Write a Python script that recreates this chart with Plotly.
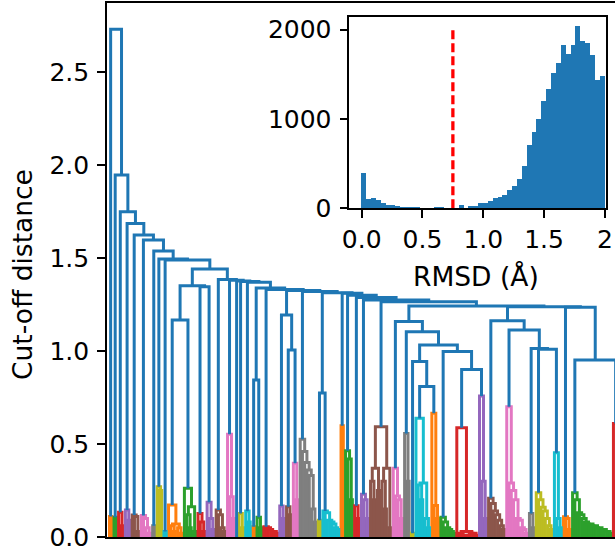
import plotly.graph_objects as go

# ---------------------------------------------------------------
# Flat clusters below the cut-off (left to right).
# A list of heights is a ladder (top merge first; k heights -> k+1
# leaves, each merge joining one leaf with the rest).  A tuple
# (height, left, right) is an explicit merge of two sub-clusters.
# ---------------------------------------------------------------
cluster_colors = [
    "orange", "green", "red", "purple", "brown", "pink", "gray", "olive", "cyan",
    "orange", "green", "red", "purple", "brown", "pink", "blue", "olive", "cyan",
    "orange", "green", "red", "purple", "brown", "pink", "gray", "olive", "cyan",
    "orange", "green", "red", "purple", "brown", "pink", "gray", "olive", "cyan",
    "orange", "green", "red", "purple", "brown", "pink", "gray", "olive", "cyan",
    "orange", "green", "red",
]

cluster_shapes = [
    [0.11], [0.106], [0.133, 0.06], [0.145, 0.09], [0.118, 0.11, 0.03],
    [0.115, 0.10, 0.05, 0.02], [0.06], [0.27, 0.25], [0.03],
    (0.172, [], (0.07, [0.06, 0.03], [0.05, 0.02])),
    (0.262, [], (0.163, [0.12, 0.05], [0.03])),
    [0.127, 0.08, 0.03], [0.187, 0.1, 0.04], [0.145, 0.12, 0.05, 0.03],
    [0.553, 0.217, 0.1], [], [0.127, 0.05], [0.14, 0.08], [0.055], [0.106, 0.05],
    [0.055, 0.05, 0.04, 0.03, 0.03, 0.02], [0.167, 0.1], [0.163, 0.12], [0.396, 0.2],
    [0.525, 0.46, 0.40, 0.36, 0.33, 0.15, 0.08], [0.09],
    [0.14, 0.13, 0.09, 0.08, 0.07, 0.05, 0.04], [0.598], [0.464, 0.42, 0.2],
    [0.168, 0.1], [0.23, 0.2, 0.1],
    (0.593, (0.37, [0.3, 0.2], [0.25]), (0.37, [0.3, 0.15], [0.05])),
    [0.37, 0.22, 0.2, 0.1], [0.557, 0.3], [0.02],
    (0.638, [], (0.29, [0.28, 0.2], [0.1, 0.05])),
    [0.665, 0.17, 0.1], [0.106, 0.08, 0.05, 0.04, 0.03, 0.02],
    (0.588, [], (0.03, [0.02, 0.01, 0.01], (0.02, [0.01], [0.02, 0.01]))),
    [0.758, 0.3, 0.1],
    [0.208, 0.18, 0.14, 0.12, 0.09, 0.06, 0.04],
    [0.70, 0.29, 0.25, 0.2, 0.1, 0.09, 0.05, 0.04, 0.02], [0.127, 0.05],
    [0.238, 0.2, 0.16, 0.14, 0.1, 0.06, 0.04], [0.453, 0.1, 0.05], [0.109, 0.1, 0.04],
    [0.238, 0.2, 0.13, 0.12, 0.1, 0.08, 0.07, 0.07, 0.06, 0.06, 0.05, 0.05, 0.04,
     0.04, 0.03, 0.03, 0.02],
    [0.61, 0.3, 0.2, 0.1, 0.05],
]

# Links above the cut-off: (node, left child, right child, distance).
# Integer children are clusters, strings are earlier nodes.
blue_links = [
    ("K", 9, 10, 1.167), ("L", 11, 12, 1.345), ("J", "K", "L", 1.351),
    ("U0844", 18, 19, 0.844), ("U1005", 22, 23, 1.005), ("U1194", 21, "U1005", 1.194),
    ("U0774", 25, 26, 0.774), ("U0809", 35, 36, 0.809), ("U0943", 34, "U0809", 0.943),
    ("U0900", 38, 39, 0.900), ("U0997", 37, "U0900", 0.997),
    ("U1032", "U0943", "U0997", 1.032), ("U1104", 33, "U1032", 1.104),
    ("U1158", 32, "U1104", 1.158), ("U1010", 43, 44, 1.010), ("U1014", 42, "U1010", 1.014),
    ("U1113", 41, "U1014", 1.113), ("U1163", 40, "U1113", 1.163),
    ("U0952", 46, 47, 0.952), ("N1", 45, "U0952", 1.235), ("N2", "U1163", "N1", 1.238),
    ("N3", "U1158", "N2", 1.242), ("N4", 31, "N3", 1.265), ("N5", 30, "N4", 1.274),
    ("N6", 29, "N5", 1.287), ("N7", 28, "N6", 1.300), ("N8", 27, "N7", 1.310),
    ("N9", "U0774", "N8", 1.313), ("N10", 24, "N9", 1.320), ("N11", "U1194", "N10", 1.325),
    ("N12", 20, "N11", 1.330), ("N13", "U0844", "N12", 1.339), ("N14", 17, "N13", 1.370),
    ("N15", 16, "N14", 1.373), ("N16", 15, "N15", 1.376), ("N17", 14, "N16", 1.380),
    ("N18", 13, "N17", 1.385), ("I", "J", "N18", 1.441), ("H", 8, "I", 1.489),
    ("G", 7, "H", 1.495), ("F", 6, "G", 1.538), ("E", 5, "F", 1.597),
    ("D", 4, "E", 1.624), ("C", 3, "D", 1.686), ("B", 2, "C", 1.749),
    ("A", 1, "B", 1.946), ("root", 0, "A", 2.730),
]

# Inset histogram of pairwise RMSD (bin width 0.04 Å on 0–2 Å)
rmsd_bin_width = 0.04
rmsd_counts = [
    399, 104, 116, 100, 60, 37, 37, 26, 15, 15, 15, 15, 3, 0, 0, 15, 15, 0, 0, 0,
    37, 0, 26, 26, 60, 60, 82, 116, 131, 153, 205, 254, 336, 478, 709, 858, 1000,
    1205, 1336, 1519, 1631, 1828, 1735, 1828, 2041, 1873, 1854, 1716, 1437, 1481,
]
rmsd_cutoff = 0.75

y_ticks = [0.0, 0.5, 1.0, 1.5, 2.0, 2.5]
y_tick_text = ["0.0", "0.5", "1.0", "1.5", "2.0", "2.5"]
inset_x_ticks = [0.0, 0.5, 1.0, 1.5, 2.0]
inset_x_tick_text = ["0.0", "0.5", "1.0", "1.5", "2"]
inset_y_ticks = [0, 1000, 2000]

palette = {
    "blue": "#1f77b4", "orange": "#ff7f0e", "green": "#2ca02c", "red": "#d62728",
    "purple": "#9467bd", "brown": "#8c564b", "pink": "#e377c2", "gray": "#7f7f7f",
    "olive": "#bcbd22", "cyan": "#17becf",
}

# ---------------------------------------------------------------
# Dendrogram geometry
# ---------------------------------------------------------------
segments = {}


def add_u(color, xl, hl, xr, hr, h):
    xs, ys = segments.setdefault(color, ([], []))
    xs += [xl, xl, xr, xr, None]
    ys += [hl, h, h, hr, None]


def place(shape, color, start):
    """Lay out a cluster from leaf index `start`; return (centre, height, next leaf)."""
    if isinstance(shape, tuple):
        h, left, right = shape
        xl, hl, nxt = place(left, color, start)
        xr, hr, nxt = place(right, color, nxt)
        add_u(color, xl, hl, xr, hr, h)
        return (xl + xr) / 2.0, h, nxt
    n = len(shape) + 1
    pos = list(range(start, start + n))
    centre, ch = float(pos[-1]), 0.0
    for k in range(n - 2, -1, -1):
        add_u(color, pos[k], 0.0, centre, ch, shape[k])
        centre, ch = (pos[k] + centre) / 2.0, shape[k]
    return centre, ch, start + n


node_pos = {}  # cluster index / node name -> (x centre, height)
leaf = 0
for ci, (col, shape) in enumerate(zip(cluster_colors, cluster_shapes)):
    cx, ch, leaf = place(shape, col, leaf)
    node_pos[ci] = (cx, ch)

for name, left, right, h in blue_links:
    xl, hl = node_pos[left]
    xr, hr = node_pos[right]
    add_u("blue", xl, hl, xr, hr, h)
    node_pos[name] = ((xl + xr) / 2.0, h)

fig = go.Figure()
for col in ["orange", "green", "red", "purple", "brown", "pink", "gray", "olive", "cyan", "blue"]:
    if col not in segments:
        continue
    xs, ys = segments[col]
    fig.add_trace(go.Scatter(
        x=xs, y=ys, mode="lines", line=dict(color=palette[col], width=3),
        hoverinfo="skip", showlegend=False, xaxis="x", yaxis="y",
    ))

# Inset histogram
bin_centres = [rmsd_bin_width * (i + 0.5) for i in range(len(rmsd_counts))]
fig.add_trace(go.Bar(
    x=bin_centres, y=rmsd_counts, width=rmsd_bin_width,
    marker=dict(color="#1f77b4", line=dict(width=0)),
    hoverinfo="skip", showlegend=False, xaxis="x2", yaxis="y2",
))
fig.add_trace(go.Scatter(
    x=[rmsd_cutoff, rmsd_cutoff], y=[0, 2000], mode="lines",
    line=dict(color="red", width=3.3, dash="9px,4px"),
    hoverinfo="skip", showlegend=False, xaxis="x2", yaxis="y2",
))

FONT = "DejaVu Sans"
tick_font = dict(family=FONT, size=25, color="black")
label_font = dict(family=FONT, size=26.5, color="black")
W, H = 615, 550
ML, MT, MB = 107, 3, 13
pw, ph = W - ML, H - MT - MB

x_lo = (ML - 109.5) / 2.27
x_hi = (W - 109.5) / 2.27

axis_common = dict(
    showline=True, linecolor="black", linewidth=1.6, showgrid=False,
    zeroline=False, fixedrange=True, automargin=False,
)
tick_common = dict(
    ticks="outside", ticklen=8, tickwidth=1.6, tickcolor="black",
    tickfont=tick_font, ticklabeloverflow="allow",
)

fig.update_layout(
    width=W, height=H,
    margin=dict(l=ML, r=0, t=MT, b=MB, pad=0, autoexpand=False),
    paper_bgcolor="white", plot_bgcolor="white",
    bargap=0, showlegend=False,
    font=dict(family=FONT, color="black"),
    xaxis=dict(
        domain=[0, 1], range=[x_lo, x_hi], showticklabels=False, ticks="",
        mirror=True, **axis_common,
    ),
    yaxis=dict(
        domain=[0, 1], range=[0, ph / 186.0],
        tickvals=y_ticks, ticktext=y_tick_text, ticklabelstandoff=3,
        mirror=False, **axis_common, **tick_common,
    ),
    xaxis2=dict(
        domain=[(349.3 - ML) / pw, (605.7 - ML) / pw], anchor="y2",
        range=[-0.102, 2.007],
        tickvals=inset_x_ticks, ticktext=inset_x_tick_text,
        mirror=True, **axis_common, **tick_common,
    ),
    yaxis2=dict(
        domain=[(H - MB - 208.3) / ph, (H - MB - 16.7) / ph], anchor="x2",
        range=[0, 2146], ticklabelstandoff=3,
        tickvals=inset_y_ticks, ticktext=[str(v) for v in inset_y_ticks],
        mirror=True, **axis_common, **tick_common,
    ),
    annotations=[
        dict(text="Cut-off distance", xref="paper", yref="paper",
             x=(22 - ML) / pw, y=(H - MB - 275) / ph, xanchor="center", yanchor="middle",
             textangle=-90, showarrow=False, font=label_font),
        dict(text="RMSD (Å)", xref="paper", yref="paper",
             x=(476 - ML) / pw, y=(H - MB - 277) / ph, xanchor="center", yanchor="middle",
             showarrow=False, font=label_font),
    ],
)

fig.write_html("out.html")
